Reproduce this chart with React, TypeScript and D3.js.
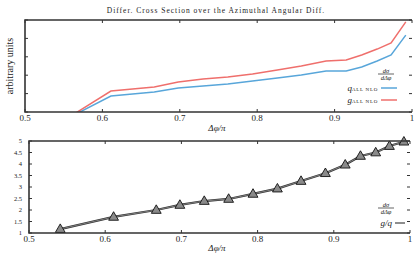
import React from 'react';
import * as d3 from 'd3';

// bin centres of Δφ/π
const dphi = [0.541, 0.611, 0.667, 0.698, 0.730, 0.762, 0.794, 0.826, 0.857, 0.889, 0.915, 0.935, 0.955, 0.973, 0.992];
// top panel, arbitrary units
const quarkNLO = [-0.65, 0.87, 1.09, 1.3, 1.41, 1.52, 1.68, 1.85, 2.01, 2.23, 2.23, 2.45, 2.77, 3.1, 4.18];
const gluonNLO = [-0.7, 1.14, 1.36, 1.63, 1.79, 1.9, 2.07, 2.28, 2.5, 2.77, 2.83, 3.1, 3.42, 3.75, 4.9];
// bottom panel, ratio g/q
const ratio = [1.17, 1.7, 2.0, 2.22, 2.39, 2.48, 2.7, 2.93, 3.26, 3.6, 3.97, 4.35, 4.5, 4.78, 4.97];
const xTicks = [0.5, 0.6, 0.7, 0.8, 0.9, 1];
const ratioTicks = [1, 1.5, 2, 2.5, 3, 3.5, 4, 4.5, 5];

const serif = 'Liberation Serif, DejaVu Serif, serif';
const blue = '#58a6da';
const red = '#ef6f6c';
const frame = '#333';

const Frac = ({ x, y }: { x: number; y: number }) => (
  <g fontFamily={serif} fontStyle="italic" fontSize={6.5} textAnchor="middle" fill="#222">
    <text x={x} y={y - 1.5}>dσ</text>
    <line x1={x - 8} x2={x + 8} y1={y} y2={y} stroke="#222" strokeWidth={0.7} />
    <text x={x} y={y + 6}>dΔφ</text>
  </g>
);

export default function App() {
  const top = { l: 25, r: 412, t: 20, b: 112 };
  const bot = { l: 29, r: 410, t: 141, b: 233 };

  const x1 = d3.scaleLinear().domain([0.5, 1]).range([top.l, top.r]);
  const y1 = d3.scaleLinear().domain([0, 5]).range([top.b, top.t]);
  const x2 = d3.scaleLinear().domain([0.5, 1]).range([bot.l, bot.r]);
  const y2 = d3.scaleLinear().domain([1, 5]).range([bot.b, bot.t]);

  const line1 = (vals: number[]) =>
    d3.line<number>().x((_, i) => x1(dphi[i])).y(d => y1(d))(vals) || '';
  const line2 = d3.line<number>().x((_, i) => x2(dphi[i])).y(d => y2(d))(ratio) || '';
  const tri = d3.symbol().type(d3.symbolTriangle).size(42)() || '';

  return (
    <svg width={414} height={256} style={{ position: 'absolute', left: 0, top: 0 }}>
      <rect width={414} height={256} fill="#fff" />
      <defs>
        <clipPath id="clipTop">
          <rect x={top.l} y={top.t - 4} width={top.r - top.l + 4} height={top.b - top.t + 4} />
        </clipPath>
      </defs>

      <text x={216} y={13} textAnchor="middle" fontFamily={serif} fontSize={7.5} letterSpacing={1} fill="#222">
        Differ. Cross Section over the Azimuthal Angular Diff.
      </text>

      {/* top panel */}
      <g>
        {xTicks.map(t => (
          <g key={t}>
            <line x1={x1(t)} x2={x1(t)} y1={top.b} y2={top.b - 3} stroke={frame} />
            <line x1={x1(t)} x2={x1(t)} y1={top.t} y2={top.t + 3} stroke={frame} />
            <text x={x1(t)} y={top.b + 9} textAnchor="middle" fontFamily={serif} fontSize={9} fill="#222">{t === 1 ? '1' : t.toFixed(1)}</text>
          </g>
        ))}
        {y1.ticks(5).map(t => (
          <g key={t}>
            <line x1={top.l} x2={top.l + 3} y1={y1(t)} y2={y1(t)} stroke={frame} />
            <line x1={top.r} x2={top.r - 3} y1={y1(t)} y2={y1(t)} stroke={frame} />
          </g>
        ))}
        <g clipPath="url(#clipTop)" fill="none" strokeWidth={1.5}>
          <path d={line1(quarkNLO)} stroke={blue} />
          <path d={line1(gluonNLO)} stroke={red} />
        </g>
        <path d={`M${top.r},${top.t}H${top.l}V${top.b}H${top.r}`} fill="none" stroke={frame} strokeWidth={1.6} />
        <text transform={`translate(13,${(top.t + top.b) / 2}) rotate(-90)`} textAnchor="middle" fontFamily={serif} fontSize={10} fill="#222">arbitrary units</text>
        <text x={217} y={131} textAnchor="middle" fontFamily={serif} fontStyle="italic" fontSize={9} fill="#222">Δφ/π</text>

        <Frac x={386} y={74} />
        <text x={378} y={91} textAnchor="end" fontFamily={serif} fill="#222">
          <tspan fontStyle="italic" fontSize={9}>q</tspan><tspan fontSize={5} dy={-0.5} letterSpacing={0.7}>ALL NLO</tspan>
        </text>
        <line x1={381} x2={397} y1={88} y2={88} stroke={blue} strokeWidth={1.5} />
        <text x={378} y={103} textAnchor="end" fontFamily={serif} fill="#222">
          <tspan fontStyle="italic" fontSize={9}>g</tspan><tspan fontSize={5} dy={-0.5} letterSpacing={0.7}>ALL NLO</tspan>
        </text>
        <line x1={381} x2={397} y1={100} y2={100} stroke={red} strokeWidth={1.5} />
      </g>

      {/* bottom panel */}
      <g>
        {xTicks.map(t => (
          <g key={t}>
            <line x1={x2(t)} x2={x2(t)} y1={bot.b} y2={bot.b - 3} stroke={frame} />
            <line x1={x2(t)} x2={x2(t)} y1={bot.t} y2={bot.t + 3} stroke={frame} />
            <text x={x2(t)} y={bot.b + 9} textAnchor="middle" fontFamily={serif} fontSize={9} fill="#222">{t === 1 ? '1' : t.toFixed(1)}</text>
          </g>
        ))}
        {ratioTicks.map(t => (
          <g key={t}>
            <line x1={bot.l} x2={bot.l + 3} y1={y2(t)} y2={y2(t)} stroke={frame} />
            <line x1={bot.r} x2={bot.r - 3} y1={y2(t)} y2={y2(t)} stroke={frame} />
            <text x={22} y={y2(t) + 2} textAnchor="end" fontFamily={serif} fontSize={6.5} fill="#222">{t}</text>
          </g>
        ))}
        <path d={line2} fill="none" stroke="#333" strokeWidth={2.2} />
        <path d={line2} fill="none" stroke="#888" strokeWidth={0.9} />
        {ratio.map((v, i) => (
          <path key={i} d={tri} transform={`translate(${x2(dphi[i])},${y2(v) + 0.5})`} fill="#8a8a8a" stroke="#111" strokeWidth={0.9} />
        ))}
        <path d={`M${bot.r},${bot.t}H${bot.l}V${bot.b}H${bot.r}`} fill="none" stroke={frame} strokeWidth={1.6} />
        <text x={217} y={251} textAnchor="middle" fontFamily={serif} fontStyle="italic" fontSize={9} fill="#222">Δφ/π</text>

        <Frac x={386} y={208} />
        <text x={392} y={226} textAnchor="end" fontFamily={serif} fontStyle="italic" fontSize={9} fill="#222">g/q</text>
        <line x1={395} x2={405} y1={223} y2={223} stroke="#444" strokeWidth={1.2} />
      </g>
    </svg>
  );
}
